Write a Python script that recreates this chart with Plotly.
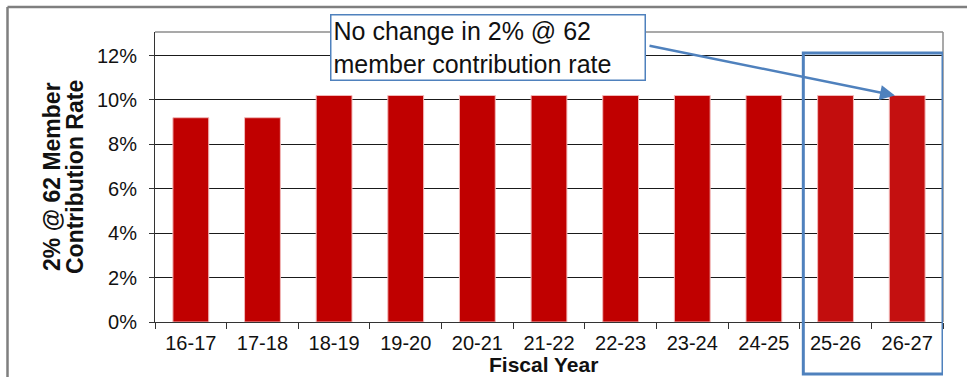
import plotly.graph_objects as go

# Fiscal years and the 2% @ 62 member contribution rate (percent)
fiscal_years = ["16-17", "17-18", "18-19", "19-20", "20-21", "21-22",
                "22-23", "23-24", "24-25", "25-26", "26-27"]
contribution_rate = [9.2, 9.2, 10.2, 10.2, 10.2, 10.2, 10.2, 10.2, 10.2, 10.2, 10.2]
bar_colors = ["#C00000"] * 9 + ["#C20D0D", "#C41010"]

y_ticks = [0, 2, 4, 6, 8, 10, 12]
y_tick_labels = [f"{v}%" for v in y_ticks]

FONT = "Liberation Sans, Arial, sans-serif"
BLUE = "#4F81BD"

# plot-area geometry in pixels, used to convert pixel positions to paper units
W, H = 967, 377
L, R, T, B = 155, 24, 32, 55
PW, PH = W - L - R, H - T - B


def px(x):
    return (x - L) / PW


def py(y):
    return (H - B - y) / PH


fig = go.Figure()
fig.add_trace(go.Bar(
    x=fiscal_years,
    y=contribution_rate,
    marker=dict(color=bar_colors, line=dict(color="#F2B8B8", width=1)),
    width=0.5,
    hoverinfo="x+y",
))

fig.update_layout(
    width=W, height=H,
    margin=dict(l=L, r=R, t=T, b=B),
    paper_bgcolor="white",
    plot_bgcolor="white",
    showlegend=False,
    font=dict(family=FONT, size=20, color="#111111"),
    xaxis=dict(
        type="category",
        showgrid=False,
        showline=True, linecolor="#333333", linewidth=1,
        ticks="outside", tickson="boundaries", ticklen=6, tickcolor="#333333",
        tickfont=dict(size=20, color="#111111"),
        ticklabelstandoff=3,
        range=[-0.5, 10.5],
    ),
    yaxis=dict(
        range=[0, 13.06],
        tickvals=y_ticks, ticktext=y_tick_labels,
        showgrid=True, gridcolor="#1a1a1a", gridwidth=1,
        zeroline=False,
        showline=True, linecolor="#333333", linewidth=1,
        ticks="outside", ticklen=5, tickcolor="#333333",
        tickfont=dict(size=20, color="#111111"),
        ticklabelstandoff=8,
    ),
)

shapes = [
    # gray border on top and right of the plot area
    dict(type="line", xref="paper", yref="paper", x0=0, x1=1, y0=1, y1=1,
         line=dict(color="#8C8C8C", width=1.5)),
    dict(type="line", xref="paper", yref="paper", x0=1, x1=1, y0=0, y1=1,
         line=dict(color="#8C8C8C", width=1.5)),
    # outer frame (top and left edges)
    dict(type="line", xref="paper", yref="paper", x0=px(7.5), x1=px(W + 2),
         y0=py(7), y1=py(7), line=dict(color="#7F7F7F", width=2.5)),
    dict(type="line", xref="paper", yref="paper", x0=px(7.5), x1=px(7.5),
         y0=py(7), y1=py(H + 2), line=dict(color="#7F7F7F", width=2.5)),
    # highlight box around the last two fiscal years
    dict(type="rect", xref="x", yref="paper", x0=8.55, x1=10.5,
         y0=py(374), y1=py(53), line=dict(color=BLUE, width=3),
         fillcolor="rgba(0,0,0,0)"),
]

annotations = [
    # callout box
    dict(xref="paper", yref="paper", x=px(330), y=py(14),
         xanchor="left", yanchor="top",
         text="No change in 2% @ 62<br>member contribution rate",
         showarrow=False, align="left", valign="middle",
         width=309, height=60, borderpad=2, borderwidth=1.5,
         bordercolor=BLUE, bgcolor="white",
         font=dict(size=25, color="#111111", family=FONT)),
    # arrow from the callout to the 26-27 bar
    dict(xref="x", yref="y", x=9.83, y=10.2, text="",
         showarrow=True, arrowhead=2, arrowsize=1.2, arrowwidth=2.5,
         arrowcolor=BLUE, axref="pixel", ayref="pixel", ax=-247, ay=-50,
         standoff=0, startstandoff=0),
    # x-axis title
    dict(xref="paper", yref="paper", x=px(543), y=py(364),
         xanchor="center", yanchor="middle", text="<b>Fiscal Year</b>",
         showarrow=False, font=dict(size=21, color="#111111", family=FONT)),
    # y-axis title, two rotated lines
    dict(xref="paper", yref="paper", x=px(52), y=py(177),
         xanchor="center", yanchor="middle", text="<b>2% @ 62 Member</b>",
         textangle=-90, showarrow=False,
         font=dict(size=23, color="#111111", family=FONT)),
    dict(xref="paper", yref="paper", x=px(75), y=py(177),
         xanchor="center", yanchor="middle", text="<b>Contribution Rate</b>",
         textangle=-90, showarrow=False,
         font=dict(size=23, color="#111111", family=FONT)),
]

fig.update_layout(shapes=shapes, annotations=annotations)

fig.write_html("out.html")
